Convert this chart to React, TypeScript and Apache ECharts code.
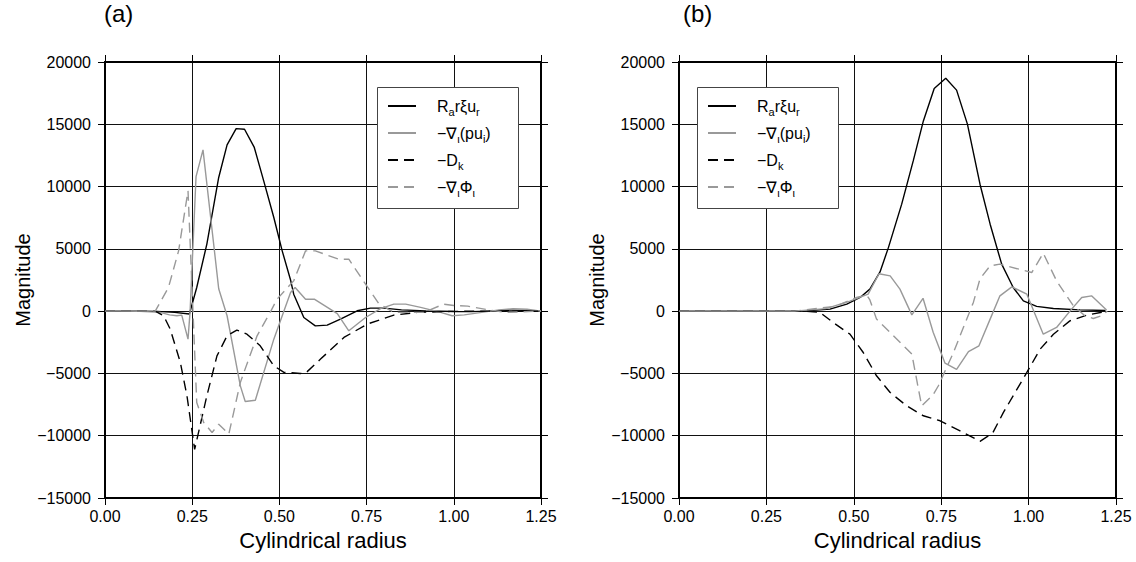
import React, { useEffect, useRef } from "react";
import * as echarts from "echarts";

// ---- Data (r = cylindrical radius, v = magnitude) ----
const xTicks = [0, 0.25, 0.5, 0.75, 1.0, 1.25];
const yTicks = [-15000, -10000, -5000, 0, 5000, 10000, 15000, 20000];
const panelTitles = ["(a)", "(b)"];
const seriesNames = ["Raξur", "−∇ι(pui)", "−Dk", "−∇ιΦι"];

// Panel (a)
const aRaru: number[][] = [
  [0, 0], [0.05, 0], [0.1, 0], [0.15, -20], [0.2, -100], [0.242, -230], [0.263, 1900], [0.292, 5380],
  [0.326, 10730], [0.35, 13350], [0.376, 14650], [0.4, 14600], [0.428, 13140], [0.455, 10460],
  [0.484, 7520], [0.508, 4840], [0.532, 2500], [0.541, 1360], [0.57, -510], [0.603, -1180],
  [0.637, -1120], [0.675, -640], [0.723, 30], [0.761, 240], [0.8, 240], [0.85, 100], [0.92, 20],
  [1.0, -30], [1.05, -40], [1.1, 0], [1.15, 80], [1.2, 60], [1.25, 0],
];
const aGradPu: number[][] = [
  [0, 0], [0.05, 0], [0.1, -20], [0.158, -100], [0.185, -300], [0.206, -370], [0.22, -320],
  [0.238, -2250], [0.244, 0], [0.261, 10800], [0.281, 12950], [0.326, 1800], [0.35, -370],
  [0.388, -6000], [0.402, -7250], [0.431, -7150], [0.484, -2250], [0.532, 1500], [0.545, 1900],
  [0.575, 960], [0.6, 960], [0.666, -200], [0.699, -1580], [0.747, -510], [0.79, 200], [0.828, 560],
  [0.862, 560], [0.905, 300], [0.96, -80], [0.995, -370], [1.03, -300], [1.08, -100], [1.13, 100],
  [1.17, 200], [1.21, 150], [1.25, 0],
];
const aDk: number[][] = [
  [0, 0], [0.1, 0], [0.144, 0], [0.168, -370], [0.187, -1440], [0.216, -4120], [0.235, -6800],
  [0.257, -11100], [0.266, -10000], [0.292, -6800], [0.321, -3590], [0.35, -1980], [0.378, -1520],
  [0.407, -1850], [0.445, -2780], [0.484, -4390], [0.512, -4900], [0.56, -5000], [0.575, -4980],
  [0.618, -3850], [0.685, -2110], [0.752, -1040], [0.828, -320], [0.895, -100], [0.99, -20],
  [1.1, 0], [1.25, 0],
];
const aGradPhi: number[][] = [
  [0, 0], [0.1, 0], [0.144, 0], [0.182, 1900], [0.211, 4840], [0.238, 9660], [0.263, -7330],
  [0.283, -8940], [0.307, -9740], [0.326, -9070], [0.355, -9870], [0.388, -5720], [0.436, -1980],
  [0.474, -80], [0.493, 960], [0.541, 2430], [0.575, 4840], [0.603, 4840], [0.67, 4170],
  [0.699, 4170], [0.747, 2170], [0.785, 600], [0.828, -100], [0.914, -100], [0.971, 560],
  [1.0, 450], [1.04, 400], [1.1, 100], [1.15, -100], [1.2, -50], [1.25, 0],
];

// Panel (b)
const bRaru: number[][] = [
  [0, 0], [0.2, 0], [0.356, 0], [0.432, 160], [0.48, 560], [0.518, 1100], [0.546, 1770],
  [0.575, 3150], [0.599, 5100], [0.637, 8590], [0.67, 12060], [0.699, 15270], [0.73, 17870],
  [0.763, 18700], [0.794, 17740], [0.825, 15010], [0.861, 10190], [0.89, 6980], [0.923, 3770],
  [0.956, 1900], [0.985, 830], [1.023, 380], [1.071, 210], [1.147, 100], [1.22, 50],
];
const bGradPu: number[][] = [
  [0, 0], [0.33, 0], [0.42, 200], [0.489, 800], [0.541, 1360], [0.572, 3000], [0.604, 2830],
  [0.632, 1770], [0.666, -300], [0.698, 1030], [0.727, -1700], [0.761, -4180], [0.794, -4680],
  [0.828, -3250], [0.858, -2780], [0.89, -640], [0.918, 1230], [0.952, 1950], [0.995, 1360],
  [1.042, -1850], [1.08, -1310], [1.123, 160], [1.152, 1100], [1.18, 1230], [1.223, 100],
];
const bDk: number[][] = [
  [0, 0], [0.356, 0], [0.384, -50], [0.403, -100], [0.441, -910], [0.489, -1850], [0.527, -3320],
  [0.565, -5190], [0.604, -6530], [0.651, -7600], [0.699, -8400], [0.747, -8800], [0.804, -9610],
  [0.861, -10450], [0.897, -9800], [0.928, -8130], [0.995, -4920], [1.033, -3050], [1.071, -1850],
  [1.118, -780], [1.166, -320], [1.225, 0],
];
const bGradPhi: number[][] = [
  [0, 0], [0.33, 0], [0.45, 400], [0.508, 1100], [0.537, 1300], [0.546, 900], [0.565, -640],
  [0.604, -1710], [0.666, -3450], [0.694, -7600], [0.727, -6700], [0.742, -5990], [0.785, -3320],
  [0.842, 700], [0.861, 2600], [0.89, 3640], [0.918, 3770], [1.009, 3100], [1.042, 4650],
  [1.08, 2430], [1.128, 430], [1.161, -370], [1.185, -590], [1.209, -370], [1.225, 0],
];

const panelData = [
  [aRaru, aGradPu, aDk, aGradPhi],
  [bRaru, bGradPu, bDk, bGradPhi],
];

const FONT = "'Liberation Sans', Arial, Helvetica, sans-serif";
const GRAY = "#999999";
const styles = [
  { color: "#000000", type: "solid" },
  { color: GRAY, type: "solid" },
  { color: "#000000", type: [10, 6] },
  { color: GRAY, type: [10, 6] },
];
const richNames: Record<string, string> = {
  "Raξur": "{n|R}{s|a}{n|rξu}{s|r}",
  "−∇ι(pui)": "{n|−∇}{s|ι}{n|(pu}{s|i}{n|)}",
  "−Dk": "{n|−D}{s|k}",
  "−∇ιΦι": "{n|−∇}{s|ι}{n|Φ}{s|ι}",
};

const grids = [
  { left: 105, top: 62, width: 436, height: 436 },
  { left: 679, top: 62, width: 437, height: 436 },
];
const legendBoxes = [
  { x: 377, y: 87, w: 141, h: 121 },
  { x: 697, y: 87, w: 141, h: 121 },
];

export default function App() {
  const ref = useRef<HTMLDivElement>(null);
  useEffect(() => {
    if (!ref.current) return;
    const chart = echarts.init(ref.current, undefined, { renderer: "svg" });
    const xMin = xTicks[0];
    const xMax = xTicks[xTicks.length - 1];
    const yMin = yTicks[0];
    const yMax = yTicks[yTicks.length - 1];
    const xInt = xTicks[1] - xTicks[0];
    const yInt = yTicks[1] - yTicks[0];

    const xAxes: any[] = [];
    const yAxes: any[] = [];
    grids.forEach((_, gi) => {
      const common = {
        gridIndex: gi,
        type: "value",
        axisLine: { show: true, onZero: false, lineStyle: { color: "#000", width: 2 } },
        axisTick: { show: true, inside: false, length: 7, lineStyle: { color: "#000", width: 1 } },
      };
      xAxes.push({
        ...common,
        position: "bottom",
        min: xMin, max: xMax, interval: xInt,
        name: "Cylindrical radius",
        nameLocation: "middle",
        nameGap: 31,
        nameTextStyle: { fontFamily: FONT, fontSize: 22, color: "#000" },
        axisLabel: {
          show: true, margin: 10, fontFamily: FONT, fontSize: 16, color: "#000",
          formatter: (v: number) => v.toFixed(2),
        },
        splitLine: { show: true, lineStyle: { color: "#111", width: 1 } },
      });
      xAxes.push({
        ...common,
        position: "top",
        min: xMin, max: xMax, interval: xInt,
        axisLabel: { show: false },
        splitLine: { show: false },
      });
      yAxes.push({
        ...common,
        position: "left",
        min: yMin, max: yMax, interval: yInt,
        name: "Magnitude",
        nameLocation: "middle",
        nameGap: 68,
        nameTextStyle: { fontFamily: FONT, fontSize: 20, color: "#000" },
        axisLabel: {
          show: true, margin: 14, fontFamily: FONT, fontSize: 16, color: "#000",
          formatter: (v: number) => String(v).replace("-", "−"),
        },
        splitLine: { show: true, lineStyle: { color: "#111", width: 1 } },
      });
      yAxes.push({
        ...common,
        position: "right",
        min: yMin, max: yMax, interval: yInt,
        axisLabel: { show: false },
        splitLine: { show: false },
      });
    });

    const series: any[] = [];
    panelData.forEach((arrs, gi) => {
      arrs.forEach((data, si) => {
        series.push({
          type: "line",
          name: seriesNames[si],
          xAxisIndex: gi * 2,
          yAxisIndex: gi * 2,
          data,
          symbol: "none",
          showSymbol: false,
          lineStyle: { color: styles[si].color, type: styles[si].type, width: 1.4 },
          itemStyle: { color: styles[si].color },
          z: 2,
        });
      });
    });

    const legends = legendBoxes.map((b) => ({
      orient: "vertical",
      left: b.x + 10,
      top: b.y + 11,
      padding: 0,
      itemWidth: 28,
      itemHeight: 14,
      itemGap: 8,
      z: 10,
      data: seriesNames,
      selectedMode: false,
      itemStyle: { opacity: 0, borderWidth: 0 },
      formatter: (name: string) => richNames[name] || name,
      textStyle: {
        padding: [0, 0, 0, 16],
        rich: {
          n: { fontFamily: FONT, fontSize: 16, color: "#000", lineHeight: 22, verticalAlign: "middle" },
          s: { fontFamily: FONT, fontSize: 11, color: "#000", lineHeight: 11, verticalAlign: "bottom" },
        },
      },
    }));

    const graphic = legendBoxes.map((b) => ({
      type: "rect",
      z: 5,
      shape: { x: b.x + 0.5, y: b.y + 0.5, width: b.w, height: b.h },
      style: { fill: "#fff", stroke: "#444", lineWidth: 1 },
    }));

    chart.setOption({
      animation: false,
      backgroundColor: "#fff",
      title: panelTitles.map((t, i) => ({
        text: t,
        left: i === 0 ? 99 : 678,
        top: -4,
        textStyle: { fontFamily: FONT, fontSize: 24, fontWeight: "normal", color: "#000" },
      })),
      grid: grids.map((g) => ({ ...g, show: true, borderColor: "#000", borderWidth: 2, backgroundColor: "transparent" })),
      xAxis: xAxes,
      yAxis: yAxes,
      legend: legends,
      graphic,
      series,
    });
    return () => chart.dispose();
  }, []);
  return <div ref={ref} style={{ position: "fixed", left: 0, top: 0, width: 1136, height: 562 }} />;
}
